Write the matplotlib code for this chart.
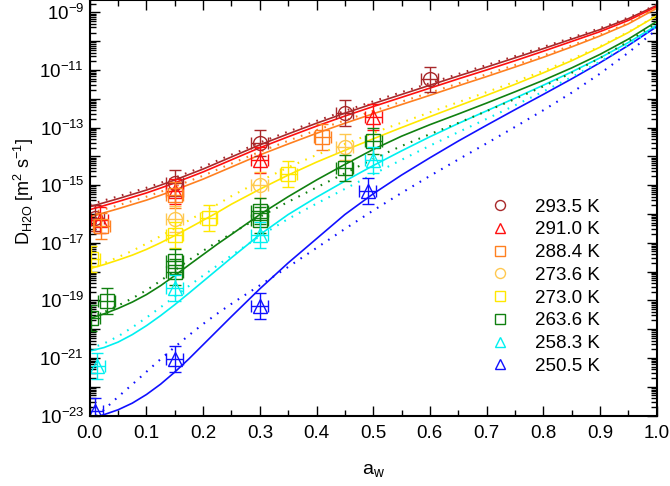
import numpy as np
import matplotlib
matplotlib.use("Agg")
from matplotlib import pyplot as plt
from matplotlib.ticker import LogLocator, MultipleLocator, FuncFormatter

plt.rcParams['font.family'] = ['Liberation Sans', 'DejaVu Sans']
plt.rcParams['mathtext.fontset'] = 'custom'
plt.rcParams['mathtext.rm'] = 'Liberation Sans'
plt.rcParams['mathtext.it'] = 'Liberation Sans'
plt.rcParams['mathtext.default'] = 'regular'

# water activity grid of the model curves (finer where they bend)
aw = [0.000, 0.025, 0.050, 0.075, 0.100, 0.125, 0.150, 0.175, 0.200, 0.225, 0.250,
      0.30, 0.35, 0.40, 0.45, 0.50, 0.55, 0.60, 0.65, 0.70, 0.75, 0.80, 0.85, 0.90, 0.95, 1.00]

# log10 of D_H2O in m2/s; solid = model 1, dotted = model 2
log_d_2935 = [-15.75, -15.61, -15.47, -15.32, -15.17, -15.00, -14.82, -14.63, -14.44, -14.23, -14.02,
              -13.60, -13.22, -12.85, -12.50, -12.17, -11.85, -11.53, -11.21, -10.90, -10.58, -10.26, -9.93, -9.60, -9.22, -8.76]
log_d_2935_dot = [-15.67, -15.53, -15.39, -15.24, -15.09, -14.92, -14.74, -14.55, -14.36, -14.15, -13.94,
                  -13.52, -13.14, -12.77, -12.42, -12.09, -11.77, -11.46, -11.14, -10.83, -10.52, -10.20, -9.88, -9.55, -9.18, -8.74]
log_d_2910 = [-15.85, -15.71, -15.57, -15.42, -15.27, -15.10, -14.92, -14.73, -14.54, -14.33, -14.12,
              -13.70, -13.32, -12.95, -12.60, -12.27, -11.95, -11.63, -11.31, -11.00, -10.68, -10.35, -10.01, -9.67, -9.28, -8.80]
log_d_2884 = [-16.10, -15.96, -15.82, -15.67, -15.52, -15.35, -15.17, -14.98, -14.79, -14.58, -14.37,
              -13.95, -13.57, -13.20, -12.85, -12.52, -12.20, -11.88, -11.55, -11.23, -10.90, -10.56, -10.20, -9.82, -9.40, -8.86]
log_d_2884_dot = [-15.98, -15.84, -15.70, -15.55, -15.40, -15.23, -15.05, -14.86, -14.67, -14.46, -14.25,
                  -13.84, -13.46, -13.09, -12.75, -12.42, -12.10, -11.79, -11.47, -11.15, -10.83, -10.50, -10.15, -9.78, -9.37, -8.85]
log_d_2730 = [-17.90, -17.76, -17.60, -17.43, -17.23, -17.00, -16.75, -16.49, -16.22, -15.95, -15.66,
              -15.14, -14.65, -14.20, -13.79, -13.39, -13.00, -12.62, -12.25, -11.88, -11.50, -11.10, -10.68, -10.21, -9.70, -9.12]
log_d_2730_dot = [-17.90, -17.71, -17.50, -17.28, -17.03, -16.77, -16.50, -16.22, -15.94, -15.67, -15.38,
                  -14.86, -14.38, -13.95, -13.57, -13.19, -12.83, -12.47, -12.12, -11.77, -11.41, -11.03, -10.63, -10.18, -9.68, -9.12]
log_d_2636 = [-19.63, -19.47, -19.28, -19.06, -18.80, -18.49, -18.14, -17.77, -17.41, -17.05, -16.71,
              -16.02, -15.40, -14.82, -14.28, -13.76, -13.30, -12.90, -12.53, -12.15, -11.76, -11.36, -10.93, -10.46, -9.93, -9.32]
log_d_2636_dot = [-19.60, -19.41, -19.18, -18.93, -18.65, -18.32, -17.96, -17.60, -17.28, -16.97, -16.68,
                  -16.10, -15.58, -15.08, -14.59, -14.09, -13.64, -13.23, -12.84, -12.43, -12.01, -11.57, -11.10, -10.59, -10.01, -9.36]
log_d_2583 = [-20.76, -20.64, -20.45, -20.19, -19.88, -19.53, -19.15, -18.75, -18.34, -17.93, -17.52,
              -16.72, -16.02, -15.42, -14.86, -14.32, -13.81, -13.32, -12.86, -12.42, -11.98, -11.53, -11.07, -10.58, -10.05, -9.45]
log_d_2583_dot = [-20.68, -20.50, -20.25, -19.94, -19.60, -19.24, -18.87, -18.50, -18.14, -17.79, -17.44,
                  -16.77, -16.17, -15.64, -15.13, -14.62, -14.12, -13.63, -13.16, -12.70, -12.23, -11.75, -11.25, -10.71, -10.13, -9.49]
log_d_2505 = [-23.10, -22.97, -22.80, -22.57, -22.27, -21.91, -21.49, -21.03, -20.54, -20.05, -19.56,
              -18.60, -17.70, -16.86, -16.02, -15.30, -14.65, -14.05, -13.47, -12.92, -12.38, -11.85, -11.31, -10.75, -10.15, -9.50]
log_d_2505_dot = [-23.20, -22.80, -22.35, -21.92, -21.48, -21.04, -20.62, -20.21, -19.82, -19.46, -19.12,
                  -18.48, -17.84, -17.18, -16.52, -15.88, -15.27, -14.68, -14.11, -13.55, -12.98, -12.40, -11.79, -11.13, -10.40, -9.60]

# measured points: water activity and log10 D_H2O
aw_2935 = [0.01, 0.15, 0.30, 0.45, 0.60]
meas_2935 = [-16.15, -14.93, -13.54, -12.48, -11.33]
aw_2910 = [0.018, 0.15, 0.30, 0.50]
meas_2910 = [-16.20, -15.22, -14.12, -12.62]
aw_2884 = [0.02, 0.15, 0.41]
meas_2884 = [-16.41, -15.33, -13.33]
aw_2736 = [0.15, 0.30, 0.45]
meas_2736 = [-16.17, -14.99, -13.66]
aw_2730 = [0.003, 0.15, 0.21, 0.35]
meas_2730 = [-17.55, -16.72, -16.14, -14.60]
aw_2636 = [0.003, 0.03, 0.15, 0.15, 0.30, 0.30, 0.45, 0.50]
meas_2636 = [-19.60, -19.03, -17.65, -18.00, -15.91, -16.20, -14.41, -13.48]
aw_2583 = [0.012, 0.15, 0.30, 0.50]
meas_2583 = [-21.29, -18.57, -16.72, -14.12]
aw_2505 = [0.009, 0.15, 0.30, 0.49]
meas_2505 = [-22.85, -21.05, -19.20, -15.19]

aw_err = 0.015
log_err = 0.45

c_2935 = '#a8282a'
c_2910 = '#ff1010'
c_2884 = '#ff8020'
c_2736 = '#ffc850'
c_2730 = '#ffe800'
c_2636 = '#108010'
c_2583 = '#00f0f0'
c_2505 = '#1010ff'

solid_curves = [
    (log_d_2935, c_2935), (log_d_2910, c_2910), (log_d_2884, c_2884),
    (log_d_2730, c_2730), (log_d_2636, c_2636), (log_d_2583, c_2583), (log_d_2505, c_2505),
]
dotted_curves = [
    (log_d_2935_dot, c_2935), (log_d_2884_dot, c_2884), (log_d_2730_dot, c_2730),
    (log_d_2636_dot, c_2636), (log_d_2583_dot, c_2583), (log_d_2505_dot, c_2505),
]

points = [
    (aw_2935, meas_2935, c_2935, 'o', '293.5 K'),
    (aw_2910, meas_2910, c_2910, '^', '291.0 K'),
    (aw_2884, meas_2884, c_2884, 's', '288.4 K'),
    (aw_2736, meas_2736, c_2736, 'o', '273.6 K'),
    (aw_2730, meas_2730, c_2730, 's', '273.0 K'),
    (aw_2636, meas_2636, c_2636, 's', '263.6 K'),
    (aw_2583, meas_2583, c_2583, '^', '258.3 K'),
    (aw_2505, meas_2505, c_2505, '^', '250.5 K'),
]

fig = plt.figure(figsize=(6.70, 4.86), dpi=100)
ax = fig.add_axes([0.134, 0.145, 0.846, 0.855])

for vals, col in solid_curves:
    ax.plot(aw, 10 ** np.array(vals), color=col, lw=1.2)
for vals, col in dotted_curves:
    ax.plot(aw, 10 ** np.array(vals), color=col, lw=1.5, linestyle=(0, (0.8, 3.2)))

for x, y, col, mk, lab in points:
    y = np.array(y)
    d = 10 ** y
    yerr = [d - 10 ** (y - log_err), 10 ** (y + log_err) - d]
    ax.errorbar(x, d, xerr=aw_err, yerr=yerr, fmt='none', ecolor=col,
                elinewidth=1.0, capsize=4, capthick=1.0)
    ax.plot(x, d, linestyle='none', marker=mk, markersize=10,
            markerfacecolor='none', markeredgecolor=col, markeredgewidth=1.0,
            label=lab)

ax.set_yscale('log')
ax.set_xlim(0.0, 1.0)
ax.set_ylim(1e-23, 10 ** -8.57)
ax.xaxis.set_major_locator(MultipleLocator(0.1))
ax.xaxis.set_minor_locator(MultipleLocator(0.05))
ax.xaxis.set_major_formatter(FuncFormatter(lambda v, p: f'{v:.1f}'))
ax.yaxis.set_major_locator(LogLocator(base=10, numticks=30))
ax.yaxis.set_minor_locator(LogLocator(base=10, subs=np.arange(2, 10), numticks=30))
ax.yaxis.set_major_formatter(FuncFormatter(
    lambda v, p: r'$10^{%d}$' % round(np.log10(v)) if round(np.log10(v)) % 2 else ''))

ax.tick_params(which='both', direction='in', top=True, right=True, labelsize=13.5, width=1.0)
ax.tick_params(which='major', length=7)
ax.tick_params(axis='x', which='major', pad=7)
ax.tick_params(axis='y', which='major', pad=4)
ax.tick_params(which='minor', length=4)
for s in ax.spines.values():
    s.set_linewidth(1.5)

ax.set_xlabel(r'$a_w$', fontsize=14, labelpad=14)
ax.set_ylabel(r'$D_{H2O}\ [m^2\ s^{-1}]$', fontsize=13)
ax.yaxis.set_label_coords(-0.094, 0.54)

ax.legend(loc='center left', bbox_to_anchor=(0.707, 0.31), frameon=False, fontsize=13.5,
          borderpad=0, borderaxespad=0, handletextpad=1.35, labelspacing=0.3,
          markerscale=0.72, handlelength=1.0)

fig.savefig('out.png', dpi=100)
